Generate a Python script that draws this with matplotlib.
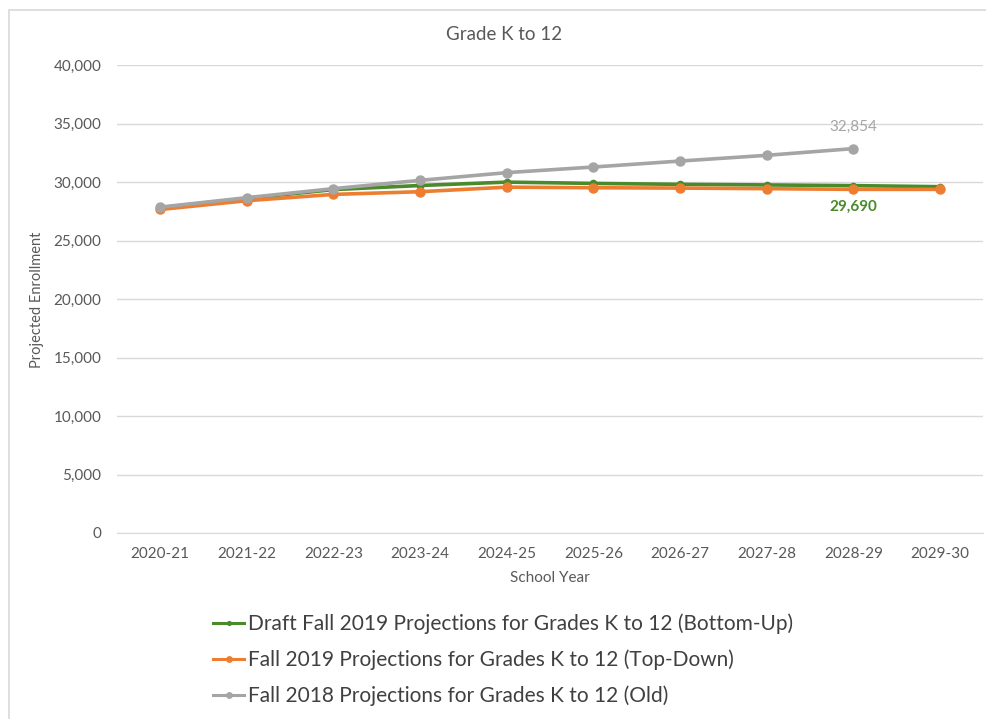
import matplotlib
matplotlib.use("Agg")
import matplotlib.pyplot as plt
from matplotlib.ticker import FuncFormatter
from matplotlib.patches import Rectangle

years = ["2020-21", "2021-22", "2022-23", "2023-24", "2024-25",
         "2025-26", "2026-27", "2027-28", "2028-29", "2029-30"]
draft_bottom_up = [27800, 28600, 29350, 29700, 29990, 29880, 29800, 29750, 29690, 29600]
fall2019_top_down = [27650, 28400, 28940, 29170, 29560, 29510, 29480, 29430, 29370, 29370]
fall2018_old = [27850, 28660, 29430, 30140, 30800, 31280, 31790, 32280, 32854]

labels = ["Draft Fall 2019 Projections for Grades K to 12 (Bottom-Up)",
          "Fall 2019 Projections for Grades K to 12 (Top-Down)",
          "Fall 2018 Projections for Grades K to 12 (Old)"]

plt.rcParams['font.family'] = ['Lato', 'DejaVu Sans']

GREEN = "#4a8a2a"
ORANGE = "#ed7d31"
GRAY = "#a5a5a5"
TXT = "#595959"

fig = plt.figure(figsize=(9.87, 7.19), dpi=100)
# chart frame
fig.patches.append(Rectangle((9/987, -0.01), 1.0, 1 - 10/719 + 0.01, transform=fig.transFigure,
                             fill=False, edgecolor="#d9d9d9", linewidth=1.2))

ax = fig.add_axes([116.7/987, 1 - 533/719, (983.3 - 116.7)/987, (533 - 65)/719])
x = list(range(len(years)))
ax.plot(x, draft_bottom_up, color=GREEN, lw=2.6, marker="o", ms=4.5, label=labels[0], zorder=3)
ax.plot(x, fall2019_top_down, color=ORANGE, lw=2.6, marker="o", ms=6.5, label=labels[1], zorder=4)
ax.plot(list(range(len(fall2018_old))), fall2018_old, color=GRAY, lw=2.6, marker="o", ms=6.5,
        label=labels[2], zorder=5)

ax.set_xlim(-0.5, len(years) - 0.5)
ax.set_ylim(0, 40000)
ax.set_yticks(range(0, 40001, 5000))
ax.yaxis.set_major_formatter(FuncFormatter(lambda v, p: f"{int(v):,}"))
ax.set_xticks(x)
ax.set_xticklabels(years)
ax.grid(axis="y", color="#d9d9d9", lw=1)
ax.set_axisbelow(True)
for s in ["top", "right", "left"]:
    ax.spines[s].set_visible(False)
ax.spines["bottom"].set_color("#d9d9d9")
ax.tick_params(axis="both", length=0, labelsize=11, colors=TXT)
ax.tick_params(axis="y", pad=11)
ax.tick_params(axis="x", pad=10)

ax.set_xlabel("School Year", fontsize=11, color=TXT, labelpad=7)
fig.text(37/987, 1 - 300/719, "Projected Enrollment", rotation=90, fontsize=10.5, color=TXT,
         ha="center", va="center")
fig.text(504/987, 1 - 34/719, "Grade K to 12", fontsize=13.5, color=TXT, ha="center", va="center")

i = len(fall2018_old) - 1
ax.annotate(f"{fall2018_old[i]:,}", (i, fall2018_old[i]), xytext=(0, 15.5), textcoords="offset points",
            ha="center", va="center", fontsize=11, color=GRAY)
ax.annotate(f"{draft_bottom_up[8]:,}", (8, draft_bottom_up[8]), xytext=(0, -15.5), textcoords="offset points",
            ha="center", va="center", fontsize=11, color=GREEN, fontweight="bold")

handles, labs = ax.get_legend_handles_labels()
leg = fig.legend(handles, labs, loc="upper left", bbox_to_anchor=(207/987, 1 - 607/719),
                 frameon=False, fontsize=15, handlelength=1.5, handletextpad=0.15,
                 labelspacing=0.75, markerscale=0.6, labelcolor="#404040",
                 borderaxespad=0, borderpad=0.3)
for ln in leg.get_lines():
    ln.set_linewidth(2.2)

fig.savefig("out.png", dpi=100)
